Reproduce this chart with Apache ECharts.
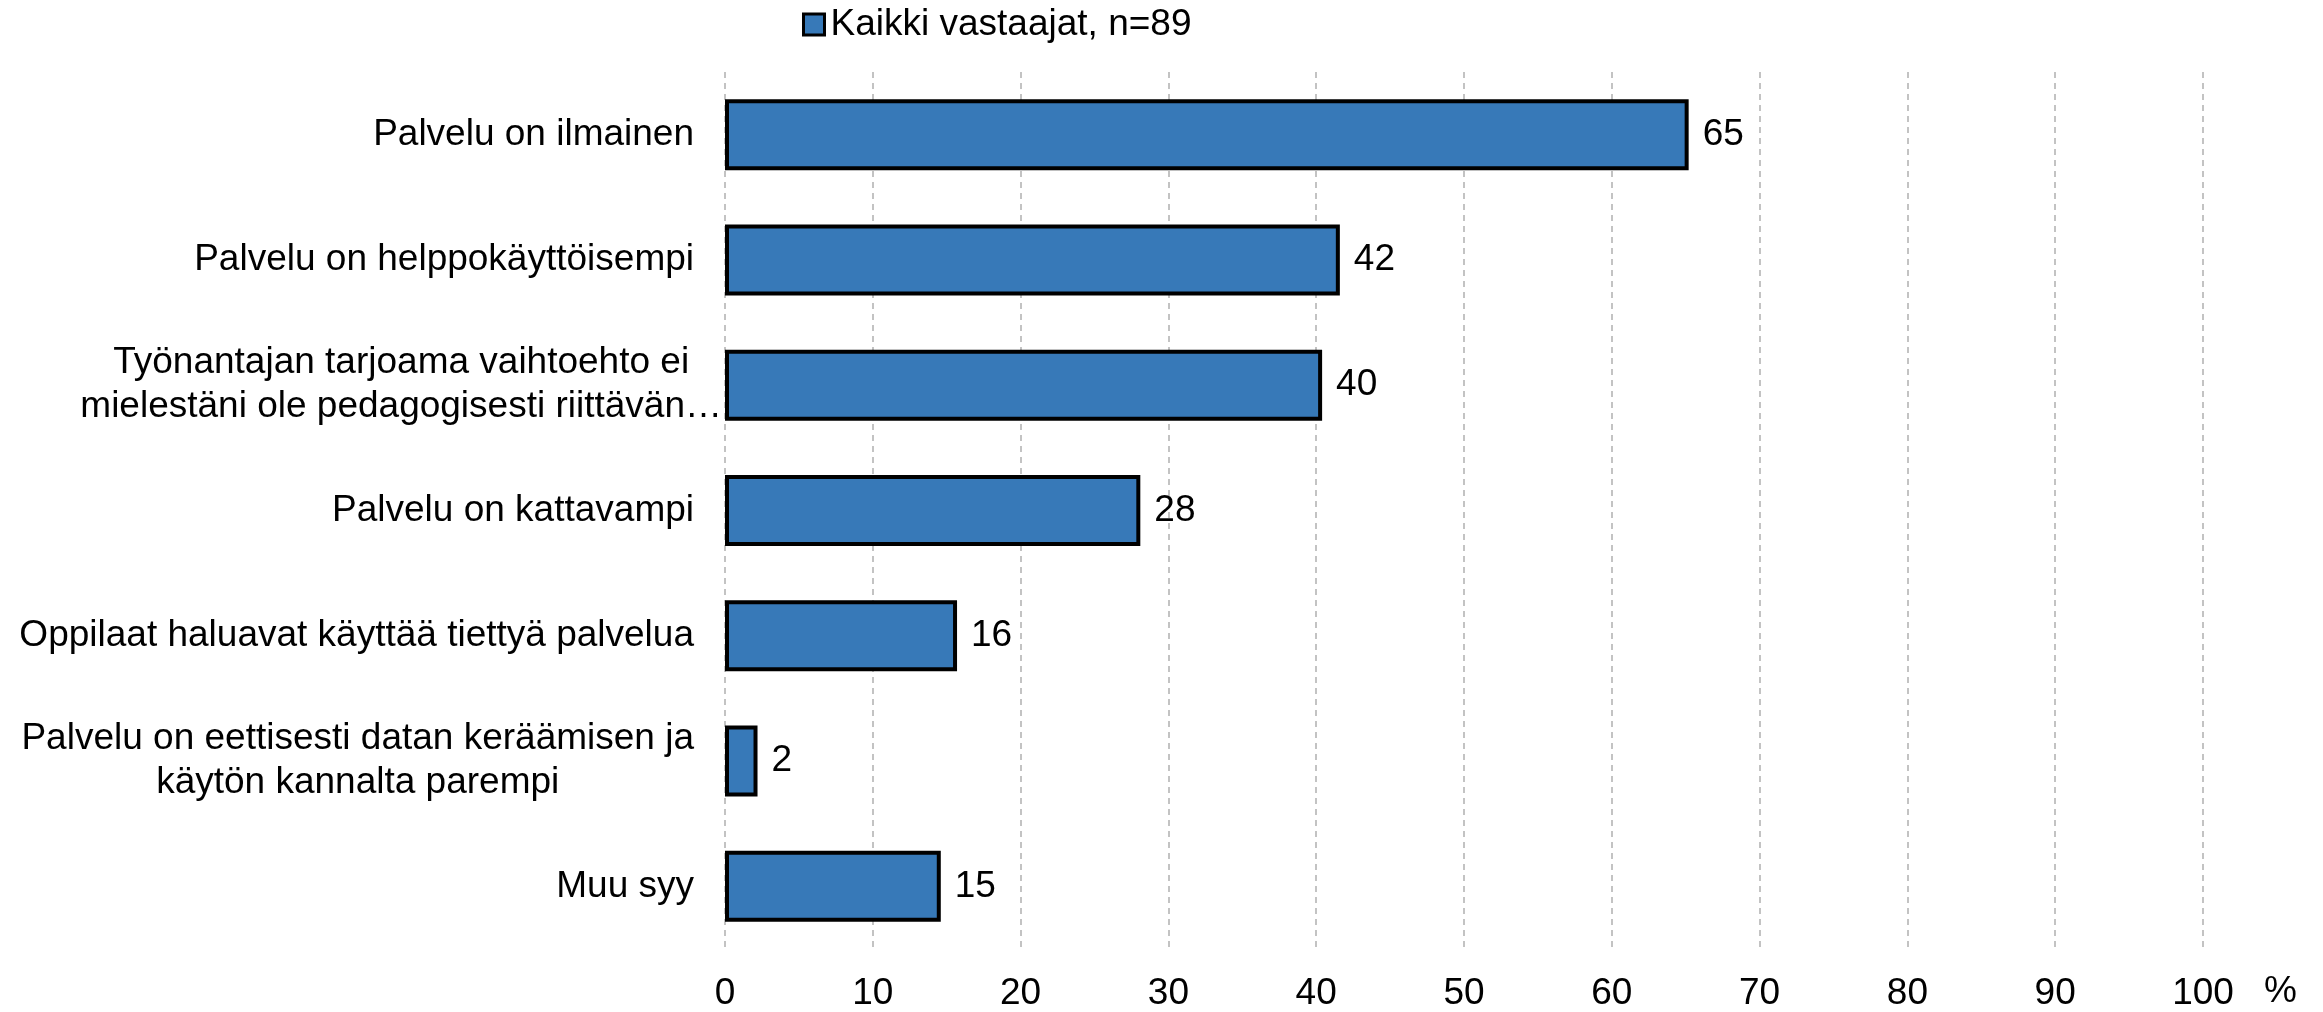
<!DOCTYPE html>
<html>
<head>
<meta charset="utf-8">
<script src="https://cdn.jsdelivr.net/npm/echarts@6/dist/echarts.min.js"></script>
<style>
  html, body { margin: 0; padding: 0; background: #fff; }
  #chart { width: 2323px; height: 1012px; }
</style>
</head>
<body>
<div id="chart"></div>
<script>
// kategoriat (ylhäältä alas)
const categories = [
  'Palvelu on ilmainen',
  'Palvelu on helppokäyttöisempi',
  'Työnantajan tarjoama vaihtoehto ei\nmielestäni ole pedagogisesti riittävän…',
  'Palvelu on kattavampi',
  'Oppilaat haluavat käyttää tiettyä palvelua',
  'Palvelu on eettisesti datan keräämisen ja\nkäytön kannalta parempi',
  'Muu syy'
]
// prosentit, n=89
const values = [65.2, 41.6, 40.4, 28.1, 15.7, 2.2, 14.6]
const seriesName = 'Kaikki vastaajat, n=89'
const axisMin = 0
const axisMax = 100
const axisStep = 10

const font = 'Liberation Sans, Arial, sans-serif'
const chart = echarts.init(document.getElementById('chart'))

// rivit keskitetään, katkaistu teksti (…) ulottuu akselille asti
function catLabel (val) {
  const cut = val.indexOf('…') >= 0
  return val.split('\n').map(l => '{c|' + l + '}' + (cut ? '' : '{sp| }')).join('\n')
}

chart.setOption({
  animation: false,
  textStyle: { fontFamily: font, color: '#000' },
  legend: {
    left: 797,
    top: 1,
    itemWidth: 21,
    itemHeight: 21,
    icon: 'rect',
    textStyle: { fontSize: 37, color: '#000', fontFamily: font, padding: [0, 0, 0, 1] },
    itemStyle: { borderColor: '#000', borderWidth: 3 },
    data: [seriesName]
  },
  grid: {
    left: 725,
    right: 120,
    top: 72,
    bottom: 63,
    containLabel: false
  },
  xAxis: {
    type: 'value',
    min: axisMin,
    max: axisMax,
    interval: axisStep,
    name: '%',
    nameLocation: 'end',
    nameGap: 61,
    nameTextStyle: { fontSize: 37, color: '#000', verticalAlign: 'top', padding: [24, 0, 0, 0] },
    axisLine: { show: false },
    axisTick: { show: false },
    axisLabel: { fontSize: 37, color: '#000', margin: 26 },
    splitLine: {
      show: true,
      lineStyle: { color: '#b0b0b0', type: [6, 5], width: 1.5 }
    }
  },
  yAxis: {
    type: 'category',
    inverse: true,
    data: categories,
    axisLine: { show: false },
    axisTick: { show: false },
    splitLine: { show: false },
    axisLabel: {
      margin: 3,
      fontSize: 37,
      lineHeight: 44,
      color: '#000',
      align: 'right',
      formatter: catLabel,
      rich: {
        c: { align: 'center', fontSize: 37, lineHeight: 44, color: '#000', fontFamily: font },
        sp: { align: 'right', width: 28, fontSize: 37, lineHeight: 44 }
      }
    }
  },
  series: [{
    name: seriesName,
    type: 'bar',
    data: values,
    barWidth: 71,
    itemStyle: { color: '#3779b8', borderColor: '#000', borderWidth: 4 },
    label: {
      show: true,
      position: 'right',
      distance: 14,
      fontSize: 37,
      color: '#000',
      formatter: (p) => Math.round(p.value)
    }
  }]
})
</script>
</body>
</html>
